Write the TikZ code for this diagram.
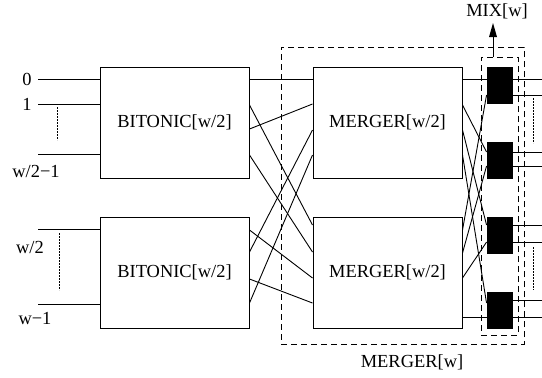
\documentclass[tikz,border=0pt]{standalone}
\usepackage{fontspec}
\setmainfont{Liberation Serif}
\begin{document}
\begin{tikzpicture}[x=1bp,y=-1bp,line width=0.9bp,
    font=\fontsize{18.5}{20}\selectfont,
    unit/.style={draw,line width=1bp,inner sep=0pt,minimum width=149bp,minimum height=111bp},
    cmp/.style={fill=black,inner sep=0pt,minimum width=26bp,minimum height=37bp},
    frame/.style={draw,line width=0.9bp,dash pattern=on 6bp off 4bp,inner sep=0pt},
    dots/.style={line width=0.6bp,dash pattern=on 1.5bp off 1.5bp}]
    \useasboundingbox (0,0) rectangle (542,377);

    % Bitonic halves
    \node[unit] (bt) at (174.5,122.5) {BITONIC[w/2]};
    \node[unit] (bb) at (174.5,272.5) {BITONIC[w/2]};

    % Mergers
    \node[unit] (mt) at (387.5,122.5) {MERGER[w/2]};
    \node[unit] (mb) at (387.5,272.5) {MERGER[w/2]};

    % Mix comparators
    \foreach \n/\y in {1/85.5,2/160.5,3/235.5,4/310}
        \node[cmp] (c\n) at (500,\y) {};

    % Inputs
    \foreach \n/\y in {0/79,1/104,2/154,3/229,4/304}
        \coordinate (i\n) at (38,\y);
    \foreach \n in {0,1,2}
        \draw (i\n) -- (i\n -| bt.west);
    \foreach \n in {3,4}
        \draw (i\n) -- (i\n -| bb.west);
    \node (l0) at (27,79) {0};
    \node (l1) at (27,104) {1};
    \node (l2) at (36,171) {w/2−1};
    \node (l3) at (30,247) {w/2};
    \node (l4) at (35,318) {w−1};
    \draw[dots] (57,107) -- (57,140);
    \draw[dots] (59,233) -- (59,290);

    % Bitonic -> merger
    \foreach \a/\b in {79/79,129/104}
        \draw (bt.east |- 0,\a) -- (mt.west |- 0,\b);
    \foreach \a/\b in {105/225,155/252}
        \draw (bt.east |- 0,\a) -- (mb.west |- 0,\b);
    \foreach \a/\b in {252/130,303/155}
        \draw (bb.east |- 0,\a) -- (mt.west |- 0,\b);
    \foreach \a/\b in {230/278,279/303}
        \draw (bb.east |- 0,\a) -- (mb.west |- 0,\b);

    % Merger -> mix
    \foreach \a/\b/\n in {79/79/1,105/152/2,130/225/3,155/303/4}
        \draw (mt.east |- 0,\a) -- (c\n.west |- 0,\b);
    \foreach \a/\b/\n in {230/95/1,253/166/2,278/242/3,317/317/4}
        \draw (mb.east |- 0,\a) -- (c\n.west |- 0,\b);

    % Outputs
    \foreach \y/\n in {79/1,95/1,152/2,166/2,225/3,242/3,300/4,317/4}{
        \coordinate (o\y) at (542,\y);
        \draw (c\n.east |- o\y) -- (o\y);
    }
    \draw[dots] (533,98) -- (533,143);
    \draw[dots] (533,247) -- (533,290);

    % Frames
    \node[frame,minimum width=243bp,minimum height=297bp] (merge) at (402.5,195.5) {};
    \node[frame,minimum width=37bp,minimum height=278bp] (mix) at (499.5,196) {};
    \node (mergelbl) at (412,362) {MERGER[w]};
    \node (mixlbl) at (497,11) {MIX[w]};

    % Arrow to MIX label
    \coordinate (tip) at (493,23);
    \draw (mix.north -| tip) -- ++(0,-20);
    \fill (tip) -- ++(-4,14) -- ++(8,0) -- cycle;
\end{tikzpicture}
\end{document}
